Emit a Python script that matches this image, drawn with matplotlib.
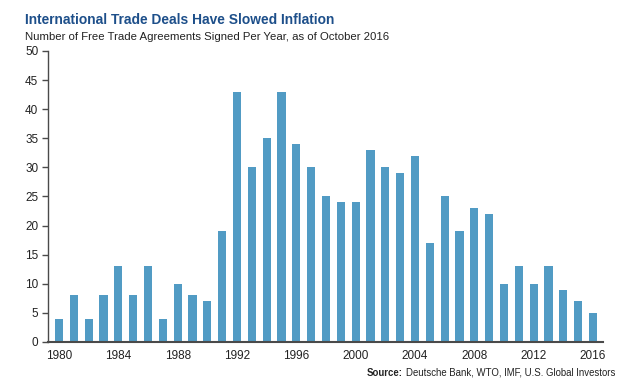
import numpy as np
import matplotlib
matplotlib.use("Agg")
import matplotlib.pyplot as plt

# --- data ---
years = list(range(1980, 2017))
agreements = [4, 8, 4, 8, 13, 8, 13, 4, 10, 8, 7, 19, 43, 30, 35, 43, 34, 30,
              25, 24, 24, 33, 30, 29, 32, 17, 25, 19, 23, 22, 10, 13, 10, 13,
              9, 7, 5]
x_ticks = [1980, 1984, 1988, 1992, 1996, 2000, 2004, 2008, 2012, 2016]
y_ticks = [0, 5, 10, 15, 20, 25, 30, 35, 40, 45, 50]

bar_color = '#519bc4'
axis_color = '#4a4a4a'
text_color = '#222222'

plt.rcParams['font.family'] = ['Liberation Sans', 'DejaVu Sans']

fig = plt.figure(figsize=(6.33, 3.8), dpi=100)
ax = fig.add_axes([0.0758, 0.1, 0.877, 0.766])

ax.bar(years, agreements, width=0.55, color=bar_color, zorder=2)

ax.set_xlim(1979.26, 2016.68)
ax.set_ylim(0, 50)
ax.set_xticks(x_ticks)
ax.set_yticks(y_ticks)

for side in ['top', 'right']:
    ax.spines[side].set_visible(False)
ax.spines['left'].set_color(axis_color)
ax.spines['bottom'].set_color(axis_color)
ax.spines['left'].set_linewidth(1.0)
ax.spines['bottom'].set_linewidth(1.5)

ax.tick_params(axis='y', length=4, width=1, color=axis_color, pad=3,
               labelsize=8.5, labelcolor=text_color)
ax.tick_params(axis='x', length=0, pad=6, labelsize=8.5, labelcolor=text_color)

# --- titles ---
fig.text(0.0395, 0.948, "International Trade Deals Have Slowed Inflation",
         fontsize=9.9, fontweight='bold', color='#1d4f8a',
         va='center', ha='left')
fig.text(0.0395, 0.902,
         "Number of Free Trade Agreements Signed Per Year, as of October 2016",
         fontsize=8.2, color=text_color, va='center', ha='left')

# source line
plain = fig.text(0.9715, 0.006, "Deutsche Bank, WTO, IMF, U.S. Global Investors",
                 fontsize=6.9, color=text_color, ha='right', va='bottom')
src = fig.text(0.0, 0.006, "Source:", fontsize=6.9, fontweight='bold',
               color=text_color, ha='right', va='bottom')

# put "Source:" right before the plain text
fig.canvas.draw()
renderer = fig.canvas.get_renderer()
bb = plain.get_window_extent(renderer)
src.set_x((bb.x0 - 3) / fig.bbox.width)

fig.savefig("out.png", dpi=100)
